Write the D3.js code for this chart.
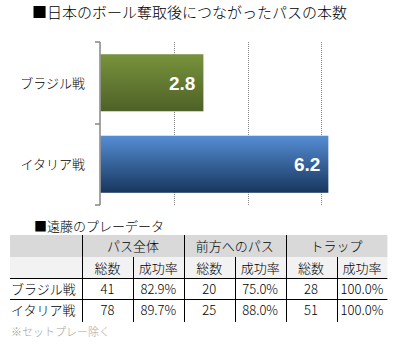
<!DOCTYPE html>
<html>
<head>
<meta charset="utf-8">
<script src="https://cdn.jsdelivr.net/npm/d3@7"></script>
<style>
  html, body { margin: 0; padding: 0; background: #fff; }
  svg { display: block; font-family: "Noto Sans CJK JP", "Noto Sans", sans-serif; font-weight: 300; }
</style>
</head>
<body>
<svg id="chart" width="399" height="350"></svg>
<script>
// Bar chart data
const matches = ["ブラジル戦", "イタリア戦"];
const passesAfterRecovery = [2.8, 6.2];
const gridTicks = [2, 4, 6];

// Player table data
const groupHeaders = ["パス全体", "前方へのパス", "トラップ"];
const subHeaders = ["総数", "成功率", "総数", "成功率", "総数", "成功率"];
const brazilRow = ["41", "82.9%", "20", "75.0%", "28", "100.0%"];
const italyRow = ["78", "89.7%", "25", "88.0%", "51", "100.0%"];

const svg = d3.select("#chart");
const defs = svg.append("defs");

function vGradient(id, top, bottom) {
  const g = defs.append("linearGradient").attr("id", id)
    .attr("x1", 0).attr("y1", 0).attr("x2", 0).attr("y2", 1);
  g.append("stop").attr("offset", "0%").attr("stop-color", top);
  g.append("stop").attr("offset", "100%").attr("stop-color", bottom);
}
vGradient("gGreen", "#78933c", "#4e6127");
vGradient("gBlue", "#558ed5", "#17365d");
const fills = ["url(#gGreen)", "url(#gBlue)"];

// Title
svg.append("text").attr("x", 32).attr("y", 18)
  .attr("font-size", 15).attr("fill", "#000")
  .text("■日本のボール奪取後につながったパスの本数");

// Scales
const x = d3.scaleLinear().domain([0, 8]).range([100.5, 394.5]);
const y = d3.scaleBand().domain(matches).range([42, 205])
  .paddingInner(0.3).paddingOuter(0.15);

// Dotted gridlines
svg.append("g").selectAll("line").data(gridTicks).join("line")
  .attr("x1", d => Math.round(x(d)) + 0.5).attr("x2", d => Math.round(x(d)) + 0.5)
  .attr("y1", 42).attr("y2", 205)
  .attr("stroke", "#858585").attr("stroke-width", 1)
  .attr("stroke-dasharray", "1,1");

// Bars
const data = matches.map((m, i) => ({ m, v: passesAfterRecovery[i], i }));
svg.append("g").selectAll("rect").data(data).join("rect")
  .attr("x", x(0))
  .attr("y", d => y(d.m))
  .attr("width", d => x(d.v) - x(0))
  .attr("height", y.bandwidth())
  .attr("fill", d => fills[d.i]);

// Value labels
svg.append("g").selectAll("text").data(data).join("text")
  .attr("x", d => x(d.v) - 8)
  .attr("y", d => y(d.m) + y.bandwidth() / 2 + 7)
  .attr("text-anchor", "end")
  .attr("font-family", "'Liberation Sans', Arial, sans-serif")
  .attr("font-weight", "bold").attr("font-size", 19)
  .attr("fill", "#fff")
  .text(d => d.v.toFixed(1));

// Category axis with bracket ticks
const axisG = svg.append("g");
axisG.append("line")
  .attr("x1", 100).attr("x2", 100).attr("y1", 42).attr("y2", 205)
  .attr("stroke", "#868686").attr("stroke-width", 1.5);
const tickYs = [42, (y(matches[0]) + y.bandwidth() + y(matches[1])) / 2, 205];
axisG.selectAll("line.tick").data(tickYs).join("line").attr("class", "tick")
  .attr("x1", 95).attr("x2", 100)
  .attr("y1", d => Math.round(d)).attr("y2", d => Math.round(d))
  .attr("stroke", "#868686").attr("stroke-width", 1.5);
axisG.selectAll("text").data(matches).join("text")
  .attr("x", 85).attr("y", d => y(d) + y.bandwidth() / 2 + 5)
  .attr("text-anchor", "end").attr("font-size", 13).attr("fill", "#000")
  .text(d => d);

// Table
svg.append("text").attr("x", 34).attr("y", 231)
  .attr("font-size", 13).attr("fill", "#000")
  .text("■遠藤のプレーデータ");

const tx0 = 10, labelW = 72, colW = 50.9;
const colX = i => tx0 + labelW + i * colW;
const tRight = colX(6);
const rowY = [235, 257, 278, 299, 322];

const table = svg.append("g").attr("font-size", 13).attr("fill", "#000");
table.append("rect").attr("x", tx0).attr("y", rowY[0])
  .attr("width", tRight - tx0).attr("height", rowY[1] - rowY[0]).attr("fill", "#d9d9d9");
table.append("rect").attr("x", tx0).attr("y", rowY[1])
  .attr("width", tRight - tx0).attr("height", rowY[2] - rowY[1]).attr("fill", "#f2f2f2");

// Group headers
table.selectAll("text.group").data(groupHeaders).join("text").attr("class", "group")
  .attr("x", (d, i) => colX(i * 2) + colW)
  .attr("y", rowY[0] + 16)
  .attr("text-anchor", "middle").text(d => d);
// Sub headers
table.selectAll("text.sub").data(subHeaders).join("text").attr("class", "sub")
  .attr("x", (d, i) => colX(i) + colW / 2)
  .attr("y", rowY[1] + 15.5)
  .attr("text-anchor", "middle").text(d => d);
// Body rows
[[matches[0], brazilRow], [matches[1], italyRow]].forEach(([label, vals], r) => {
  const by = rowY[2 + r] + 16;
  table.append("text").attr("x", tx0 + 1).attr("y", by).text(label);
  table.selectAll("text.r" + r).data(vals).join("text").attr("class", "r" + r)
    .attr("x", (d, i) => colX(i) + colW / 2)
    .attr("y", by)
    .attr("text-anchor", "middle").text(d => d);
});

// Table rules
const rules = table.append("g").attr("stroke", "#000").attr("stroke-width", 1);
[rowY[2], rowY[3]].forEach(yy => {
  rules.append("line").attr("x1", tx0).attr("x2", tRight)
    .attr("y1", yy + 0.5).attr("y2", yy + 0.5);
});
[0, 2, 4].forEach(i => {
  const xx = Math.round(colX(i)) + 0.5;
  rules.append("line").attr("x1", xx).attr("x2", xx).attr("y1", rowY[0]).attr("y2", rowY[4]);
});
[1, 3, 5].forEach(i => {
  const xx = Math.round(colX(i)) + 0.5;
  rules.append("line").attr("x1", xx).attr("x2", xx).attr("y1", rowY[1]).attr("y2", rowY[4]);
});

// Footnote
svg.append("text").attr("x", 11).attr("y", 336)
  .attr("font-size", 11).attr("fill", "#a6a6a6")
  .text("※セットプレー除く");
</script>
</body>
</html>
